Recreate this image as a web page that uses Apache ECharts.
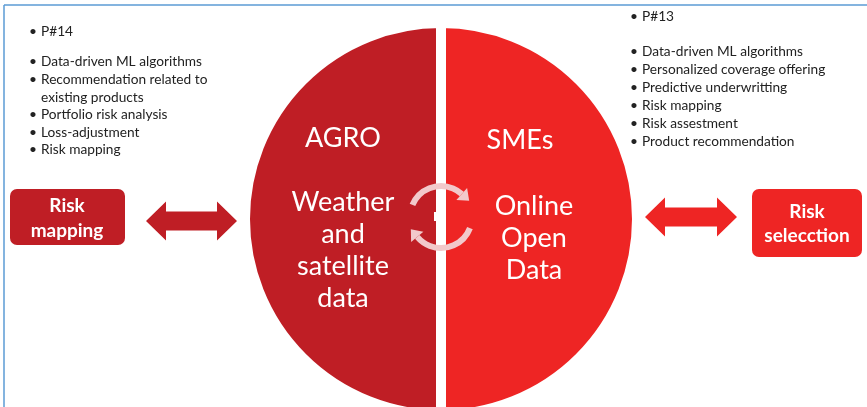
<!DOCTYPE html>
<html>
<head>
<meta charset="utf-8">
<script src="https://cdn.jsdelivr.net/npm/echarts@6.0.0/dist/echarts.min.js"></script>
<style>
  html, body { margin: 0; padding: 0; background: #fff; }
  #main { width: 867px; height: 407px; }
</style>
</head>
<body>
<div id="main"></div>
<script>
// halves of the circle
const halves = ['AGRO', 'SMEs'];
const shares = [50, 50];
const leftBody = ['Weather', 'and', 'satellite', 'data'];
const rightBody = ['Online', 'Open', 'Data'];

// bullet lists
const leftTag = 'P#14';
const leftItems = ['Data-driven ML algorithms', 'Recommendation related to\nexisting products', 'Portfolio risk analysis', 'Loss-adjustment', 'Risk mapping'];
const rightTag = 'P#13';
const rightItems = ['Data-driven ML algorithms', 'Personalized coverage offering', 'Predictive underwritting', 'Risk mapping', 'Risk assestment', 'Product recommendation'];

// side boxes
const boxLabels = ['Risk\nmapping', 'Risk\nselecction'];

const DARK = '#BF1E25';
const BRIGHT = '#EE2524';
const FONT = 'Lato, "Open Sans", sans-serif';

const chart = echarts.init(document.getElementById('main'));

function txt(x, y, text, size, color, align, weight, lh) {
  return {
    type: 'text',
    silent: true,
    z: 10,
    style: {
      x: x, y: y, text: text,
      fill: color,
      font: (weight || 'normal') + ' ' + size + 'px ' + FONT,
      lineHeight: lh || size * 1.2,
      align: align, textAlign: align,
      verticalAlign: 'middle', textVerticalAlign: 'middle'
    }
  };
}

function bulletList(x, tagY, itemY, step, tag, items) {
  let els = [];
  els.push(txt(x, tagY, '•', 13.7, '#222', 'left'));
  els.push(txt(x + 12, tagY, tag, 13.7, '#222', 'left'));
  let y = itemY;
  items.forEach(function (it) {
    it.split('\n').forEach(function (line, i) {
      if (i === 0) els.push(txt(x, y, '•', 13.7, '#222', 'left'));
      els.push(txt(x + 12, y, line, 13.7, '#222', 'left'));
      y += step;
    });
  });
  return els;
}

function doubleArrow(x1, x2, cy, headLen, headH, shaftH, color) {
  return {
    type: 'polygon',
    silent: true,
    z: 10,
    shape: {
      points: [
        [x1, cy], [x1 + headLen, cy - headH], [x1 + headLen, cy - shaftH],
        [x2 - headLen, cy - shaftH], [x2 - headLen, cy - headH], [x2, cy],
        [x2 - headLen, cy + headH], [x2 - headLen, cy + shaftH],
        [x1 + headLen, cy + shaftH], [x1 + headLen, cy + headH]
      ]
    },
    style: { fill: color }
  };
}

function cycleArrow(cx, cy, r, a0, a1, color) {
  const s = a0 * Math.PI / 180, e = a1 * Math.PI / 180;
  const nx = Math.cos(e), ny = Math.sin(e);
  const tx = -Math.sin(e), ty = Math.cos(e);
  const bx = cx + r * nx, by = cy + r * ny;
  return [
    {
      type: 'arc', silent: true, z: 10,
      shape: { cx: cx, cy: cy, r: r, startAngle: s, endAngle: e, clockwise: true },
      style: { stroke: color, lineWidth: 6, fill: null }
    },
    {
      type: 'polygon', silent: true, z: 10,
      shape: {
        points: [
          [bx + nx * 8, by + ny * 8],
          [bx - nx * 8, by - ny * 8],
          [bx + tx * 10, by + ty * 10]
        ]
      },
      style: { fill: color }
    }
  ];
}

const CX = 441, CY = 219;
const pale = '#F2C9CB';

let graphics = [
  // frame
  { type: 'line', silent: true, z: 10, shape: { x1: 4, y1: 5, x2: 867, y2: 5 }, style: { stroke: '#5B9BD5', lineWidth: 1.5 } },
  { type: 'line', silent: true, z: 10, shape: { x1: 4, y1: 5, x2: 4, y2: 407 }, style: { stroke: '#5B9BD5', lineWidth: 1.5 } },
  // side boxes
  { type: 'rect', silent: true, z: 10, shape: { x: 10, y: 189, width: 115, height: 56, r: 7 }, style: { fill: DARK } },
  { type: 'rect', silent: true, z: 10, shape: { x: 752, y: 189, width: 110, height: 68, r: 7 }, style: { fill: BRIGHT } },
  txt(67, 218, boxLabels[0], 19, '#fff', 'center', 'bold', 25),
  txt(807, 224, boxLabels[1], 19, '#fff', 'center', 'bold', 24),
  doubleArrow(146, 237, 221, 20, 19.5, 9.5, DARK),
  doubleArrow(645, 737, 217, 20, 19.5, 9.5, BRIGHT),
  // circle labels
  txt(343, 138, halves[0], 27, '#fff', 'center'),
  txt(343, 250, leftBody.join('\n'), 27, '#fff', 'center', 'normal', 32),
  txt(520, 140, halves[1], 27, '#fff', 'center'),
  txt(534, 238, rightBody.join('\n'), 27, '#fff', 'center', 'normal', 32),
  // centre notch
  { type: 'rect', silent: true, z: 11, shape: { x: 434, y: 212, width: 10, height: 9 }, style: { fill: '#fff' } }
];
graphics = graphics
  .concat(bulletList(29, 32, 62, 17.6, leftTag, leftItems))
  .concat(bulletList(630, 17, 52, 18, rightTag, rightItems))
  .concat(cycleArrow(CX, 217, 31, 203, 312, pale))
  .concat(cycleArrow(CX, 217, 31, 21, 140, pale));

const option = {
  animation: false,
  graphic: { elements: graphics },
  series: [
    {
      type: 'pie',
      silent: true,
      z: 1,
      center: [CX, CY],
      radius: [0, 196],
      startAngle: 90,
      clockwise: false,
      label: { show: false },
      labelLine: { show: false },
      itemStyle: { borderColor: '#fff', borderWidth: 10 },
      data: halves.map(function (name, i) {
        return { name: name, value: shares[i], itemStyle: { color: i === 0 ? DARK : BRIGHT } };
      })
    }
  ]
};

chart.setOption(option);
</script>
</body>
</html>
